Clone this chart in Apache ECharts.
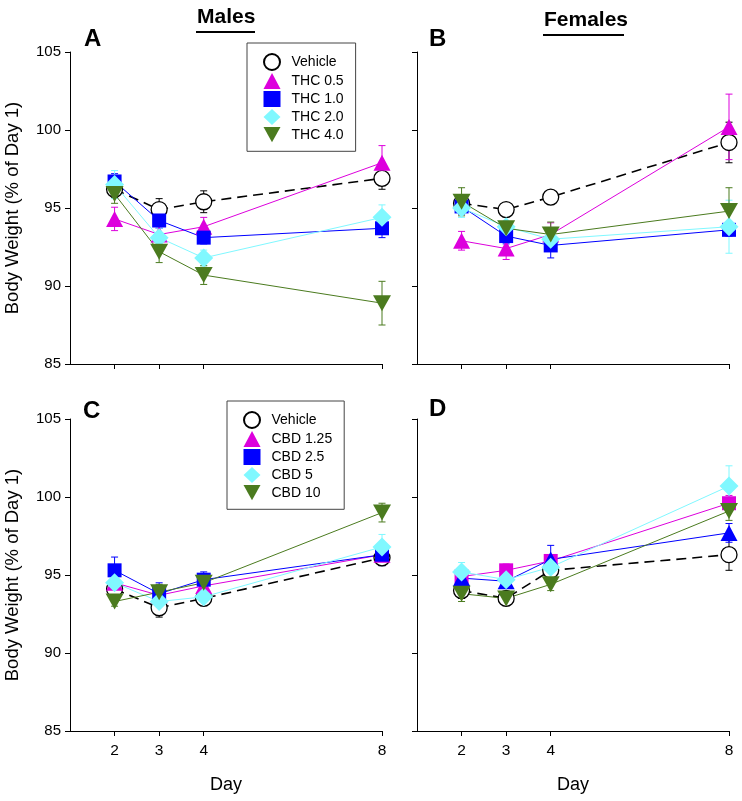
<!DOCTYPE html>
<html>
<head>
<meta charset="utf-8">
<script src="https://cdn.jsdelivr.net/npm/echarts@6/dist/echarts.min.js"></script>
<style>html,body{margin:0;padding:0;background:#fff}#chart{width:742px;height:801px}</style>
</head>
<body>
<div id="chart"></div>
<script>
// ---- Data ----
const days = [2, 3, 4, 8];
const yTicks = [85, 90, 95, 100, 105];

// Panel A: Males, THC
const aVehicle = [96.2, 94.9, 95.4, 96.9];
const aVehicleSem = [0.5, 0.7, 0.7, 0.7];
const aThc05 = [94.3, 93.3, 93.8, 97.9];
const aThc05Sem = [0.75, 0.5, 0.6, 1.1];
const aThc10 = [96.7, 94.2, 93.1, 93.7];
const aThc10Sem = [0.5, 0.5, 0.4, 0.6];
const aThc20 = [96.5, 93.1, 91.8, 94.4];
const aThc20Sem = [0.9, 0.6, 0.5, 0.8];
const aThc40 = [95.9, 92.2, 90.7, 88.9];
const aThc40Sem = [0.6, 0.7, 0.6, 1.4];

// Panel B: Females, THC
const bVehicle = [95.3, 94.9, 95.7, 99.2];
const bVehicleSem = [0.5, 0.4, 0.3, 1.3];
const bThc05 = [92.9, 92.4, 93.3, 100.2];
const bThc05Sem = [0.6, 0.7, 0.75, 2.1];
const bThc10 = [95.1, 93.2, 92.6, 93.6];
const bThc10Sem = [0.5, 0.5, 0.8, 0.4];
const bThc20 = [95.0, 93.8, 93.0, 93.8];
const bThc20Sem = [0.6, 0.7, 0.6, 1.7];
const bThc40 = [95.4, 93.7, 93.3, 94.8];
const bThc40Sem = [0.9, 0.9, 0.8, 1.5];

// Panel C: Males, CBD
const cVehicle = [94.1, 92.9, 93.5, 96.1];
const cVehicleSem = [0.4, 0.6, 0.4, 0.5];
const cCbd125 = [94.5, 93.7, 94.3, 96.3];
const cCbd125Sem = [0.4, 0.4, 0.4, 0.5];
const cCbd25 = [95.3, 93.8, 94.7, 96.3];
const cCbd25Sem = [0.85, 0.7, 0.5, 0.7];
const cCbd5 = [94.5, 93.3, 93.6, 96.8];
const cCbd5Sem = [0.4, 0.7, 0.4, 0.8];
const cCbd10 = [93.3, 93.9, 94.5, 99.0];
const cCbd10Sem = [0.3, 0.5, 0.4, 0.6];

// Panel D: Females, CBD
const dVehicle = [94.0, 93.5, 95.3, 96.3];
const dVehicleSem = [0.5, 0.4, 0.5, 1.0];
const dCbd125 = [94.9, 95.3, 95.9, 99.6];
const dCbd125Sem = [0.4, 0.4, 0.4, 0.5];
const dCbd25 = [94.8, 94.6, 96.0, 97.7];
const dCbd25Sem = [0.4, 0.4, 0.9, 0.6];
const dCbd5 = [95.2, 94.7, 95.5, 100.7];
const dCbd5Sem = [0.6, 0.4, 0.5, 1.3];
const dCbd10 = [93.8, 93.5, 94.4, 99.1];
const dCbd10Sem = [0.5, 0.4, 0.4, 0.6];

const thcNames = ['Vehicle', 'THC 0.5', 'THC 1.0', 'THC 2.0', 'THC 4.0'];
const cbdNames = ['Vehicle', 'CBD 1.25', 'CBD 2.5', 'CBD 5', 'CBD 10'];

// ---- Styles ----
const FONT = 'Liberation Sans, Arial, sans-serif';
const MAGENTA = '#DD00DD', BLUE = '#0000FF', CYAN = '#80F8FF', GREEN = '#4B7B1F';
const DOWN = 'path://M0,0 L10,0 L5,9 Z';
const styles = {
  vehicle: {color: '#000', symbol: 'circle', size: 16, fill: '#fff', dashed: true},
  mag: {color: MAGENTA, symbol: 'triangle', size: [17, 16]},
  blue: {color: BLUE, symbol: 'rect', size: 14},
  cyan: {color: CYAN, symbol: 'diamond', size: 19},
  green: {color: GREEN, symbol: DOWN, size: [18, 16]},
  magSq: {color: MAGENTA, symbol: 'rect', size: 14},
  blueTri: {color: BLUE, symbol: 'triangle', size: [17, 16]}
};

const grids = [
  {left: 70, top: 52, width: 312, height: 312},
  {left: 417, top: 52, width: 312, height: 312},
  {left: 70, top: 419, width: 312, height: 312},
  {left: 417, top: 419, width: 312, height: 312}
];

const xAxes = grids.map((g, i) => ({
  gridIndex: i, type: 'value', min: 1, max: 8,
  name: i >= 2 ? 'Day' : '', nameLocation: 'middle', nameGap: 45,
  nameTextStyle: {fontFamily: FONT, fontSize: 18, color: '#000'},
  axisLine: {show: true, onZero: false, lineStyle: {color: '#000', width: 1}},
  axisTick: {show: true, length: 5, customValues: days, lineStyle: {color: '#000'}},
  axisLabel: {show: i >= 2, customValues: days, margin: 12, fontFamily: FONT, fontSize: 15.5, color: '#000'},
  splitLine: {show: false}
}));

const yAxes = grids.map((g, i) => ({
  gridIndex: i, type: 'value', min: yTicks[0], max: yTicks[yTicks.length - 1], interval: 5,
  name: (i % 2 === 0) ? 'Body Weight (% of Day 1)' : '', nameLocation: 'middle', nameGap: 48,
  nameTextStyle: {fontFamily: FONT, fontSize: 18.5, color: '#000'},
  axisLine: {show: true, lineStyle: {color: '#000', width: 1}},
  axisTick: {show: true, length: 5, lineStyle: {color: '#000'}},
  axisLabel: {show: i % 2 === 0, margin: 9, fontFamily: FONT, fontSize: 15, color: '#000'},
  splitLine: {show: false}
}));

const series = [];
function addSeries(gi, name, vals, sems, st) {
  series.push({
    type: 'custom', xAxisIndex: gi, yAxisIndex: gi, z: 2, silent: true,
    data: days.map((d, k) => [d, vals[k], sems[k]]),
    encode: {x: 0, y: 1},
    renderItem: function (params, api) {
      const x = api.value(0), m = api.value(1), s = api.value(2);
      const t = api.coord([x, m + s]), b = api.coord([x, m - s]);
      const cw = 3.5, ls = {stroke: st.color, lineWidth: 1};
      return {type: 'group', children: [
        {type: 'line', shape: {x1: t[0], y1: t[1], x2: b[0], y2: b[1]}, style: ls},
        {type: 'line', shape: {x1: t[0] - cw, y1: t[1], x2: t[0] + cw, y2: t[1]}, style: ls},
        {type: 'line', shape: {x1: b[0] - cw, y1: b[1], x2: b[0] + cw, y2: b[1]}, style: ls}
      ]};
    }
  });
  series.push({
    type: 'line', name: name, xAxisIndex: gi, yAxisIndex: gi, z: 3,
    data: days.map((d, k) => [d, vals[k]]),
    symbol: st.symbol, symbolSize: st.size, symbolKeepAspect: false,
    showAllSymbol: true,
    lineStyle: {color: st.color, width: st.dashed ? 1.6 : 1, type: st.dashed ? [10, 6] : 'solid'},
    itemStyle: st.fill ? {color: st.fill, borderColor: st.color, borderWidth: 1.3} : {color: st.color, borderWidth: 0},
    emphasis: {disabled: true}, animation: false
  });
}

addSeries(0, thcNames[0], aVehicle, aVehicleSem, styles.vehicle);
addSeries(0, thcNames[1], aThc05, aThc05Sem, styles.mag);
addSeries(0, thcNames[2], aThc10, aThc10Sem, styles.blue);
addSeries(0, thcNames[3], aThc20, aThc20Sem, styles.cyan);
addSeries(0, thcNames[4], aThc40, aThc40Sem, styles.green);

addSeries(1, thcNames[0], bVehicle, bVehicleSem, styles.vehicle);
addSeries(1, thcNames[1], bThc05, bThc05Sem, styles.mag);
addSeries(1, thcNames[2], bThc10, bThc10Sem, styles.blue);
addSeries(1, thcNames[3], bThc20, bThc20Sem, styles.cyan);
addSeries(1, thcNames[4], bThc40, bThc40Sem, styles.green);

addSeries(2, cbdNames[0], cVehicle, cVehicleSem, styles.vehicle);
addSeries(2, cbdNames[1], cCbd125, cCbd125Sem, styles.mag);
addSeries(2, cbdNames[2], cCbd25, cCbd25Sem, styles.blue);
addSeries(2, cbdNames[3], cCbd5, cCbd5Sem, styles.cyan);
addSeries(2, cbdNames[4], cCbd10, cCbd10Sem, styles.green);

addSeries(3, cbdNames[0], dVehicle, dVehicleSem, styles.vehicle);
addSeries(3, cbdNames[1], dCbd125, dCbd125Sem, styles.magSq);
addSeries(3, cbdNames[2], dCbd25, dCbd25Sem, styles.blueTri);
addSeries(3, cbdNames[3], dCbd5, dCbd5Sem, styles.cyan);
addSeries(3, cbdNames[4], dCbd10, dCbd10Sem, styles.green);

const icons = ['circle', 'triangle', 'rect', 'diamond', DOWN];
function makeLegend(names, left, top) {
  return {
    left: left, top: top, orient: 'vertical', selectedMode: false,
    data: names.map((n, k) => ({name: n, icon: icons[k]})),
    itemWidth: 17, itemHeight: 16, itemGap: 2,
    padding: [10, 12, 9, 16],
    borderColor: '#444', borderWidth: 1, backgroundColor: '#fff',
    textStyle: {fontFamily: FONT, fontSize: 14, color: '#000', padding: [0, 0, 0, 6]}
  };
}

const chart = echarts.init(document.getElementById('chart'), null, {renderer: 'canvas'});
chart.setOption({
  animation: false,
  backgroundColor: '#fff',
  grid: grids,
  xAxis: xAxes,
  yAxis: yAxes,
  legend: [makeLegend(thcNames, 247, 43), makeLegend(cbdNames, 227, 401)],
  series: series,
  graphic: [
    {type: 'text', left: 197, top: 7, style: {text: 'Males', font: 'bold 21px ' + FONT, fill: '#000'}},
    {type: 'line', shape: {x1: 196, y1: 32, x2: 255, y2: 32}, style: {stroke: '#000', lineWidth: 2}},
    {type: 'text', left: 544, top: 10, style: {text: 'Females', font: 'bold 21px ' + FONT, fill: '#000'}},
    {type: 'line', shape: {x1: 543, y1: 35, x2: 624, y2: 35}, style: {stroke: '#000', lineWidth: 2}},
    {type: 'text', left: 84, top: 27, style: {text: 'A', font: 'bold 24px ' + FONT, fill: '#000'}},
    {type: 'text', left: 429, top: 27, style: {text: 'B', font: 'bold 24px ' + FONT, fill: '#000'}},
    {type: 'text', left: 83, top: 399, style: {text: 'C', font: 'bold 24px ' + FONT, fill: '#000'}},
    {type: 'text', left: 429, top: 397, style: {text: 'D', font: 'bold 24px ' + FONT, fill: '#000'}}
  ]
});
</script>
</body>
</html>
